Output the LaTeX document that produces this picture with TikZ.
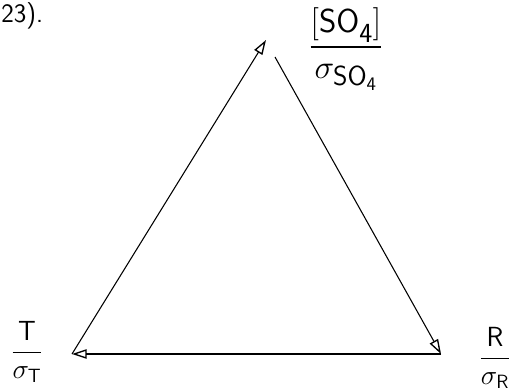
\documentclass[tikz,border=0pt]{standalone}
\usepackage{amsmath}
\usepackage{tikz}
\usetikzlibrary{arrows.meta}

\begin{document}
\begin{tikzpicture}[
  x=0.75pt, y=-0.75pt,
  font=\sffamily\fontsize{20}{24}\selectfont,
  lbl/.style={inner sep=0pt, align=center},
  biglbl/.style={lbl, font=\sffamily\fontsize{28}{32}\selectfont},
  arrow/.style={-{Triangle[open, length=11pt, width=7pt, line width=1pt]}, line width=0.8pt}
]
\useasboundingbox (0,0) rectangle (524,392);

% vertices
\coordinate (vT) at (72,354);
\coordinate (vS) at (266,40);
\coordinate (vSout) at (275,57);
\coordinate (vR) at (441,354);

% labels
\node[biglbl] (so4) at (346,49) {$\dfrac{\mathsf{[SO}_{\mathsf{4}}\mathsf{]}}{\sigma_{\mathsf{SO}_{\mathsf{4}}}}$};
\node[lbl] (tlab) at (27,352) {$\dfrac{\mathsf{T}}{\sigma_{\mathsf{T}}}$};
\node[lbl] (rlab) at (495,358) {$\dfrac{\mathsf{R}}{\sigma_{\mathsf{R}}}$};
\node[anchor=north west, inner sep=0pt] (ref) at (1,2) {23).};

% cycle
\draw[arrow] (vT) -- (vS);
\draw[arrow] (vSout) -- (vR);
\draw[arrow] (vR) -- (vT);
\end{tikzpicture}
\end{document}
